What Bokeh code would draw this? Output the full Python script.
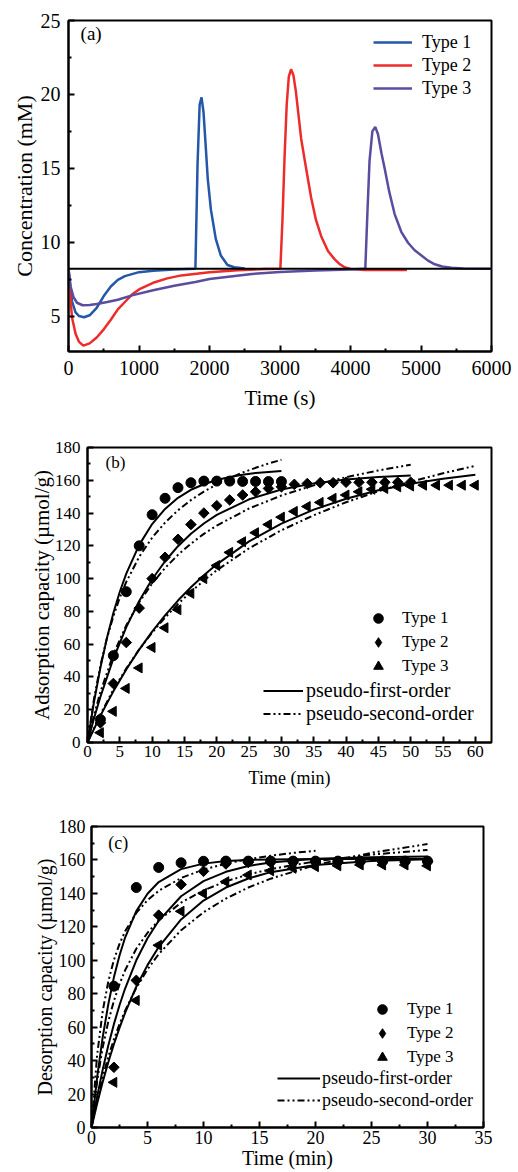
import numpy as np
from bokeh.plotting import figure
from bokeh.models import FixedTicker, Legend, LegendItem, Label, Range1d, Span
from bokeh.embed import file_html
from bokeh.resources import INLINE

FONT = "Liberation Serif"

# ---------------- Panel (a) data ----------------
a_time_1 = [0, 25, 50, 100, 150, 220, 300, 400, 500, 600, 700, 800, 1000, 1200, 1500, 1800,
            1830, 1860, 1887, 1915, 1945, 1975, 2020, 2090, 2160, 2255, 2350, 2500]
a_conc_1 = [8.2, 7.0, 6.0, 5.25, 5.0, 4.92, 5.05, 5.55, 6.35, 7.0, 7.45, 7.7, 7.97, 8.07, 8.15, 8.2,
            15.2, 19.3, 19.8, 18.8, 16.6, 14.3, 12.2, 10.2, 9.1, 8.45, 8.3, 8.22]
a_time_2 = [0, 20, 50, 100, 150, 210, 300, 400, 500, 600, 700, 800, 900, 1000, 1200, 1400, 1600,
            2000, 2400, 2800, 3005, 3035, 3065, 3095, 3125, 3157, 3190, 3225, 3265, 3300, 3370,
            3442, 3510, 3584, 3680, 3773, 3850, 3915, 4000, 4200, 4800]
a_conc_2 = [8.2, 6.6, 4.9, 3.8, 3.25, 3.0, 3.15, 3.55, 4.1, 4.75, 5.45, 5.95, 6.45, 6.8, 7.25, 7.55, 7.75,
            7.97, 8.1, 8.18, 8.2, 11.5, 15.8, 19.3, 21.2, 21.7, 21.3, 20.2, 18.5, 17.0, 15.0,
            13.0, 11.5, 10.4, 9.4, 8.85, 8.5, 8.3, 8.18, 8.12, 8.12]
a_time_3 = [0, 30, 70, 120, 200, 300, 400, 550, 700, 900, 1200, 1500, 1800, 2000, 2300, 2600, 3000,
            3500, 4000, 4210, 4240, 4270, 4310, 4351, 4390, 4440, 4484, 4550, 4626, 4720, 4816,
            4910, 5006, 5100, 5195, 5300, 5432, 5600, 6000]
a_conc_3 = [8.2, 7.0, 6.3, 5.9, 5.73, 5.75, 5.82, 5.95, 6.1, 6.4, 6.75, 7.05, 7.3, 7.5, 7.68, 7.85, 7.98,
            8.08, 8.15, 8.2, 12.0, 15.5, 17.5, 17.8, 17.3, 16.0, 15.0, 13.4, 11.9, 10.7, 9.96,
            9.45, 9.1, 8.75, 8.5, 8.35, 8.27, 8.22, 8.2]
a_baseline = 8.2
a_labels = ["Type 1", "Type 2", "Type 3"]
a_colors = ["#2457a8", "#ee2b2b", "#5a4c9e"]

# ---------------- Panel (b) data ----------------
b_time_1 = [2, 4, 6, 8, 10, 12, 14, 16, 18, 20, 22, 24, 26, 28, 30]
b_q_1 = [14, 53, 92, 120, 139, 149, 155.5, 158.5, 159.5, 159.5, 159.5, 159.3, 159.3, 159.2, 159.2]
b_time_2 = [2, 4, 6, 8, 10, 12, 14, 16, 18, 20, 22, 24, 26, 28, 30, 32, 34, 36, 38, 40, 42, 44, 46, 48, 50]
b_q_2 = [12, 36, 61, 82, 100, 113, 124, 133, 140, 144.5, 148, 151, 153, 155, 156, 157.5, 158, 158.5,
         158.5, 158.8, 158.8, 158.8, 158.8, 158.8, 158.8]
b_time_3 = [2, 4, 6, 8, 10, 12, 14, 16, 18, 20, 22, 24, 26, 28, 30, 32, 34, 36, 38, 40, 42, 44, 46, 48,
            50, 52, 54, 56, 58, 60]
b_q_3 = [6, 19, 33, 45.5, 58, 70, 81, 91, 100, 108, 116, 122.5, 128, 133, 137.5, 141, 144, 146.5, 149,
         151, 153, 154.5, 155, 156, 156.5, 157, 157, 157, 157, 157]

b_fit_time_1 = [0, 1, 2, 3, 4, 5, 6, 8, 10, 12, 14, 16, 18, 20, 22, 24, 26, 28, 30]
b_pfo_1 = [0, 24.7, 45.7, 63.6, 79, 92, 103, 120.6, 133.3, 142.5, 149.3, 154.2, 157.6, 160.2, 162,
           163.4, 164.4, 165.1, 165.6]
b_pso_1 = [0, 26.5, 47, 63.6, 77, 88.4, 98, 113.3, 125, 134.2, 141.7, 147.9, 153.1, 157.5, 161.3,
           164.7, 167.6, 170.2, 172.5]
b_fit_time_2 = [0, 1, 2, 4, 6, 8, 10, 12, 14, 16, 18, 20, 25, 30, 35, 40, 45, 50]
b_pfo_2 = [0, 14.6, 27.9, 51.1, 70.4, 86.3, 99.6, 110.6, 119.8, 127.4, 133.6, 138.9, 148.4, 154.4,
           158.1, 160.5, 162, 162.9]
b_pso_2 = [0, 16.6, 30.9, 53.8, 71.5, 85.6, 97, 106.5, 114.5, 121.3, 127.3, 132.4, 142.8, 150.7,
           156.9, 161.9, 166, 169.5]
b_fit_time_3 = [0, 2, 4, 6, 8, 10, 12, 14, 16, 18, 20, 25, 30, 35, 40, 45, 50, 55, 60]
b_pfo_3 = [0, 16.4, 31.2, 44.6, 56.7, 67.7, 77.6, 86.6, 94.7, 102.1, 108.7, 122.7, 133.6, 142.1,
           148.7, 153.9, 157.9, 161, 163.4]
b_pso_3 = [0, 17.2, 32.2, 45.2, 56.8, 67.1, 76.2, 84.5, 92, 98.8, 105.1, 118.5, 129.5, 138.7,
           146.6, 153.3, 159.1, 164.3, 168.8]

# ---------------- Panel (c) data ----------------
c_time = [2, 4, 6, 8, 10, 12, 14, 16, 18, 20, 22, 24, 26, 28, 30]
c_q_1 = [84.5, 143.5, 155.5, 158.3, 159.2, 159.3, 159.3, 159.3, 159.3, 159.3, 159.3, 159.3, 159.3, 159.3, 159.3]
c_q_2 = [36, 88, 127, 145.3, 153.2, 157.6, 158.5, 158.7, 158.8, 158.8, 158.8, 158.8, 158.8, 158.8, 159]
c_q_3 = [27, 76, 109, 129.3, 140, 147, 151, 153.5, 155, 156, 156.5, 157, 157, 157, 156.5]

c_fit_time = [0, 0.5, 1, 1.5, 2, 2.5, 3, 4, 5, 6, 8, 10, 12, 14, 16, 20, 25, 30]
c_fit_time_short = [0, 0.5, 1, 1.5, 2, 2.5, 3, 4, 5, 6, 8, 10, 12, 14, 16, 18, 20]
c_pfo_1 = [0, 29.8, 54, 73.7, 89.8, 102.9, 113.6, 129.4, 139.8, 146.8, 154.5, 157.8, 159.3, 160,
           160.3, 160.5, 160.5, 160.5]
c_pso_1 = [0, 43.2, 69.6, 87.4, 100.2, 109.8, 117.3, 128.3, 135.9, 141.5, 149.2, 154.3, 157.8, 160.5,
           162.5, 164.2, 165.5]
c_pfo_2 = [0, 18.3, 34.6, 49, 61.8, 73.1, 83.1, 100, 113.2, 123.6, 138.3, 147.3, 152.9, 156.4, 158.5,
           160.7, 161.6, 162]
c_pso_2 = [0, 27.6, 47.9, 63.4, 75.7, 85.7, 94, 106.9, 116.4, 123.8, 134.5, 141.8, 147.2, 151.3,
           154.5, 159.2, 163.2, 166]
c_pfo_3 = [0, 14.2, 27.2, 39, 49.8, 59.6, 68.5, 84.2, 97.1, 107.9, 124.4, 135.7, 143.5, 148.9,
           152.7, 157, 159.4, 160.4]
c_pso_3 = [0, 16.4, 30.3, 42.3, 52.7, 61.8, 69.9, 83.5, 94.6, 103.7, 118, 128.7, 136.9, 143.5,
           148.8, 157, 164.3, 169.5]

fit_labels = ["pseudo-first-order", "pseudo-second-order"]
PSO_DASH = "7 3 2 3 2 3"


def make_fig(w, h, xr, yr, bl, br, bt, bb):
    p = figure(width=w, height=h, x_range=Range1d(*xr), y_range=Range1d(*yr),
               output_backend="svg", toolbar_location=None,
               min_border_left=bl, min_border_right=br, min_border_top=bt, min_border_bottom=bb)
    p.xgrid.visible = False
    p.ygrid.visible = False
    p.outline_line_color = "black"
    p.outline_line_width = 2
    p.outline_line_alpha = 1
    p.background_fill_color = "white"
    p.border_fill_color = "white"
    return p


def style_axes(p, xt, xm, yt, ym, tick_fs, xlab, xlab_fs, ylab, ylab_fs,
               x_st, y_st, xl_st, yl_st):
    p.xaxis.ticker = FixedTicker(ticks=xt, minor_ticks=xm)
    p.yaxis.ticker = FixedTicker(ticks=yt, minor_ticks=ym)
    for ax in (p.xaxis[0], p.yaxis[0]):
        ax.axis_line_width = 2
        ax.axis_line_color = "black"
        ax.major_tick_in = 6
        ax.major_tick_out = 0
        ax.minor_tick_in = 3
        ax.minor_tick_out = 0
        ax.major_tick_line_width = 2
        ax.minor_tick_line_width = 2
        ax.major_tick_line_color = "black"
        ax.minor_tick_line_color = "black"
        ax.major_label_text_font = FONT
        ax.major_label_text_font_size = tick_fs
        ax.major_label_text_color = "black"
        ax.axis_label_text_font = FONT
        ax.axis_label_text_font_style = "normal"
        ax.axis_label_text_color = "black"
    p.xaxis.axis_label = xlab
    p.xaxis.axis_label_text_font_size = xlab_fs
    p.yaxis.axis_label = ylab
    p.yaxis.axis_label_text_font_size = ylab_fs
    p.xaxis.major_label_standoff = x_st
    p.yaxis.major_label_standoff = y_st
    p.xaxis.axis_label_standoff = xl_st
    p.yaxis.axis_label_standoff = yl_st


# ---------------- Figure (a) ----------------
pa = make_fig(518, 412, (0, 6000), (2.6, 25), 68, 27, 20, 54)
style_axes(pa, list(range(0, 6001, 1000)), list(range(500, 6000, 1000)),
           [5, 10, 15, 20, 25], [2.5, 7.5, 12.5, 17.5, 22.5], "20px",
           "Time (s)", "21px", "Concentration (mM)", "22px", 9, 8, 8, 1)
ra = []
for xs, ys, c in zip([a_time_1, a_time_2, a_time_3], [a_conc_1, a_conc_2, a_conc_3], a_colors):
    ra.append(pa.line(xs, ys, line_color=c, line_width=2.5))
pa.add_layout(Span(location=a_baseline, dimension="width", line_color="black", line_width=2))
leg_a = Legend(items=[LegendItem(label=l, renderers=[r]) for l, r in zip(a_labels, ra)],
               location=(305, 252), border_line_color=None, background_fill_alpha=0,
               padding=0, margin=0, spacing=1, glyph_width=39, glyph_height=22,
               label_height=22, label_standoff=10, label_text_font=FONT,
               label_text_font_size="18px", label_text_color="black")
pa.add_layout(leg_a)
pa.add_layout(Label(x=171, y=24.1, text="(a)", text_font=FONT, text_font_size="19px",
                    text_baseline="middle", text_color="black"))


def scatter_set(p, times, qs, size):
    r1 = p.scatter(times[0], qs[0], marker="circle", size=size, fill_color="black", line_color="black")
    p.scatter(times[1], qs[1], marker="square", size=size * 0.75, angle=45, angle_units="deg",
              fill_color="black", line_color="black")
    # diamond drawn inside the rotated square; it provides the legend key
    r2 = p.scatter(times[1], qs[1], marker="diamond", size=size * 0.8,
                   fill_color="black", line_color="black")
    r3 = p.scatter(times[2], qs[2], marker="triangle", size=size, angle=90, angle_units="deg",
                   fill_color="black", line_color="black")
    return [r1, r2, r3]


def marker_legend(items, loc, standoff, fs):
    return Legend(items=items, location=loc, border_line_color=None, background_fill_alpha=0,
                  padding=0, margin=0, spacing=-3, glyph_width=24, glyph_height=24,
                  label_height=24, label_standoff=standoff, label_text_font=FONT,
                  label_text_font_size=fs, label_text_color="black")


# ---------------- Figure (b) ----------------
pb = make_fig(518, 378, (0, 62.5), (0, 180), 87, 27, 35, 48)
style_axes(pb, list(range(0, 61, 5)), [2.5 + 5 * i for i in range(12)],
           list(range(0, 181, 20)), list(range(10, 180, 20)), "17px",
           "Time (min)", "18px", "Adsorption capacity (\u00b5mol/g)", "21px", 3, 7, 8, -2)
solid_b = None
dash_b = None
for ft, pf, ps in zip([b_fit_time_1, b_fit_time_2, b_fit_time_3], [b_pfo_1, b_pfo_2, b_pfo_3],
                      [b_pso_1, b_pso_2, b_pso_3]):
    solid_b = pb.line(ft, pf, line_color="black", line_width=2)
    dash_b = pb.line(ft, ps, line_color="black", line_width=2, line_dash=PSO_DASH)
mk_b = scatter_set(pb, [b_time_1, b_time_2, b_time_3], [b_q_1, b_q_2, b_q_3], 10)
leg_b1 = marker_legend([LegendItem(label=l, renderers=[r]) for l, r in zip(a_labels, mk_b)],
                       (279, 64), 12, "17px")
leg_b2 = Legend(items=[LegendItem(label=fit_labels[0], renderers=[solid_b]),
                       LegendItem(label=fit_labels[1], renderers=[dash_b])],
                location=(176, 17), border_line_color=None, background_fill_alpha=0,
                padding=0, margin=0, spacing=0, glyph_width=40, glyph_height=23,
                label_height=23, label_standoff=3, label_text_font=FONT,
                label_text_font_size="20px", label_text_color="black")
pb.add_layout(leg_b1)
pb.add_layout(leg_b2)
pb.add_layout(Label(x=2.8, y=170.6, text="(b)", text_font=FONT, text_font_size="17px",
                    text_baseline="middle", text_color="black"))

# ---------------- Figure (c) ----------------
pc = make_fig(518, 382, (0, 35), (0, 180), 91, 35, 36, 45)
style_axes(pc, list(range(0, 36, 5)), [2.5 + 5 * i for i in range(7)],
           list(range(0, 181, 20)), list(range(10, 180, 20)), "18px",
           "Time (min)", "20px", "Desorption capacity (\u00b5mol/g)", "20px", 3, 6, 0, 0)
pc.line(c_fit_time, c_pfo_1, line_color="black", line_width=2)
dash_c = pc.line(c_fit_time_short, c_pso_1, line_color="black", line_width=2, line_dash=PSO_DASH)
pc.line(c_fit_time, c_pfo_2, line_color="black", line_width=2)
pc.line(c_fit_time, c_pso_2, line_color="black", line_width=2, line_dash=PSO_DASH)
solid_c = pc.line(c_fit_time, c_pfo_3, line_color="black", line_width=2)
pc.line(c_fit_time, c_pso_3, line_color="black", line_width=2, line_dash=PSO_DASH)
mk_c = scatter_set(pc, [c_time, c_time, c_time], [c_q_1, c_q_2, c_q_3], 10)
leg_c1 = marker_legend([LegendItem(label=l, renderers=[r]) for l, r in zip(a_labels, mk_c)],
                       (279, 58), 13, "17px")
leg_c2 = Legend(items=[LegendItem(label=fit_labels[0], renderers=[solid_c]),
                       LegendItem(label=fit_labels[1], renderers=[dash_c])],
                location=(186, 16), border_line_color=None, background_fill_alpha=0,
                padding=0, margin=0, spacing=0, glyph_width=43, glyph_height=22,
                label_height=22, label_standoff=2, label_text_font=FONT,
                label_text_font_size="18px", label_text_color="black")
pc.add_layout(leg_c1)
pc.add_layout(leg_c2)
pc.add_layout(Label(x=1.5, y=170.4, text="(c)", text_font=FONT, text_font_size="18px",
                    text_baseline="middle", text_color="black"))

open("out.html", "w").write(file_html([pa, pb, pc], INLINE))
